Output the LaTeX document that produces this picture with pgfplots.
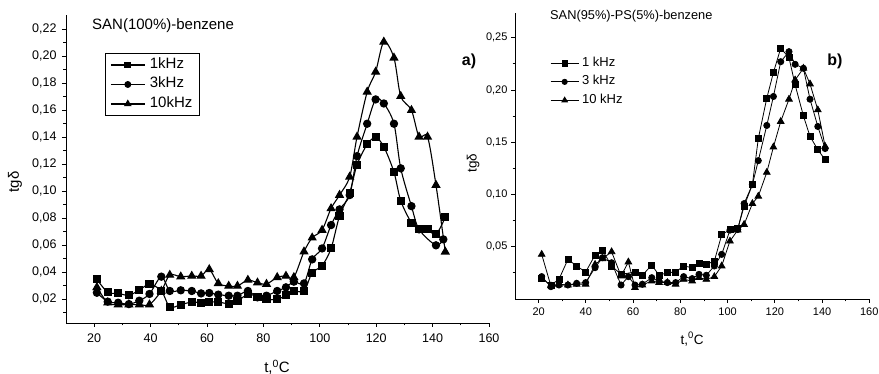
\documentclass[border=0pt]{standalone}
\usepackage{fontspec}
\setmainfont{Liberation Sans}
\usepackage{pgfplots}
\pgfplotsset{compat=1.18}

\pgfplotsset{
  mystyle/.style={
    scale only axis,
    axis x line*=bottom, axis y line*=left,
    axis line style={-, line width=0.9pt},
    tick align=outside,
    major tick length=4pt, minor tick length=2.5pt,
    every tick/.style={black, line width=0.8pt},
    xmin=10, xmax=160,
    xtick={20,40,60,80,100,120,140,160},
    minor xtick={30,50,70,90,110,130,150},
    scaled y ticks=false,
    /pgf/number format/assume math mode=true,
    yticklabel style={/pgf/number format/use comma, /pgf/number format/fixed, /pgf/number format/fixed zerofill, /pgf/number format/precision=2},
    clip=false,
  }
}

\begin{document}
\begin{tikzpicture}
\useasboundingbox (0,0) rectangle (879pt,374pt);

% ---------------- left: a) ----------------
\begin{axis}[mystyle,
  at={(66pt,51pt)}, anchor=south west, width=423pt, height=308pt,
  ymin=0.0025, ymax=0.2305,
  ytick={0.02,0.04,0.06,0.08,0.10,0.12,0.14,0.16,0.18,0.20,0.22},
  minor ytick={0.01,0.03,0.05,0.07,0.09,0.11,0.13,0.15,0.17,0.19,0.21},
  ticklabel style={font=\fontsize{12.5}{14}\selectfont},
  yticklabel style={xshift=-2pt},
  xticklabel style={yshift=-3pt},
  xlabel={t,\textsuperscript{0}C}, ylabel={tgδ},
  xlabel style={at={(axis description cs:0.499,-0.1429)}, anchor=center, font=\fontsize{15}{18}\selectfont},
  ylabel style={at={(axis description cs:-0.1206,0.458)}, anchor=center, font=\fontsize{15}{18}\selectfont},
  legend style={at={(axis description cs:0.092,0.877)}, anchor=north west, draw=black, line width=0.7pt,
     font=\fontsize{15}{18}\selectfont, inner xsep=5pt, inner ysep=2pt, row sep=0pt, column sep=3pt,
     cells={anchor=west}, nodes={inner sep=1.5pt, text height=11.5pt, text depth=5pt}},
  legend image code/.code={\draw[mark repeat=2,mark phase=2,mark options={scale=0.8}] plot coordinates {(0pt,0pt) (17pt,0pt) (34pt,0pt)};},
]
\addplot[black, line width=1.1pt, smooth, mark=square*, mark size=3.5pt] coordinates {
(20.95,0.0348) (24.8,0.0252) (28.5,0.0244) (32.3,0.0230) (36.0,0.0269) (39.6,0.0311) (43.8,0.0264)
(46.8,0.0143) (50.7,0.0161) (54.6,0.0180) (57.9,0.0175) (60.8,0.0180) (64.0,0.0180) (67.7,0.0168)
(70.8,0.0188) (74.5,0.0237) (77.9,0.0220) (81.1,0.0200) (84.9,0.0200) (88.0,0.0230) (90.8,0.0262)
(94.4,0.0262) (97.3,0.0397) (100.8,0.0449) (104.0,0.0577) (107.0,0.0817) (110.6,0.0989) (113.2,0.1196)
(116.8,0.1347) (119.8,0.1399) (122.7,0.1330) (126.3,0.1142) (128.7,0.0930) (132.5,0.0767) (135.2,0.0723)
(138.2,0.0718) (141.2,0.0681) (144.5,0.0807)};
\addlegendentry{1kHz}
\addplot[black, line width=1.1pt, smooth, mark=*, mark size=3.6pt] coordinates {
(20.95,0.0249) (24.8,0.0183) (28.5,0.0175) (32.3,0.0165) (36.0,0.0190) (39.6,0.0240) (43.8,0.0368)
(46.8,0.0262) (50.7,0.0267) (54.6,0.0262) (57.9,0.0244) (60.8,0.0247) (64.0,0.0235) (67.7,0.0227)
(70.8,0.0227) (74.5,0.0262) (77.9,0.0215) (81.1,0.0227) (84.9,0.0262) (88.0,0.0289) (90.8,0.0331)
(94.4,0.0318) (97.3,0.0496) (100.8,0.0577) (104.0,0.0750) (107.0,0.0866) (110.6,0.0972) (113.2,0.1260)
(116.8,0.1500) (119.8,0.1680) (122.7,0.1650) (126.3,0.1500) (128.7,0.1170) (132.5,0.0890) (135.2,0.0718)
(141.2,0.0600) (143.8,0.0644)};
\addlegendentry{3kHz}
\addplot[black, line width=1.1pt, smooth, mark=triangle*, mark size=4.3pt] coordinates {
(20.95,0.0289) (24.8,0.0175) (28.5,0.0161) (32.3,0.0161) (36.0,0.0161) (39.6,0.0161) (43.8,0.0262)
(46.8,0.0380) (50.7,0.0368) (54.6,0.0373) (57.9,0.0373) (60.8,0.0422) (64.0,0.0318) (67.7,0.0299)
(70.8,0.0299) (74.5,0.0343) (77.9,0.0323) (81.1,0.0313) (84.9,0.0363) (88.0,0.0373) (90.8,0.0363)
(94.4,0.0553) (97.3,0.0656) (100.8,0.0713) (104.0,0.0873) (107.0,0.0972) (110.6,0.1107) (113.2,0.1403)
(116.8,0.1736) (119.8,0.1884) (122.7,0.2106) (126.3,0.1988) (128.7,0.1704) (132.5,0.1600) (135.2,0.1403)
(138.2,0.1403) (141.2,0.1046) (144.5,0.0552)};
\addlegendentry{10kHz}
\end{axis}

% ---------------- right: b) ----------------
\begin{axis}[mystyle,
  at={(515pt,75pt)}, anchor=south west, width=354.3pt, height=286.3pt,
  ymin=0, ymax=0.274,
  ytick={0.05,0.10,0.15,0.20,0.25},
  minor ytick={0.025,0.075,0.125,0.175,0.225},
  ticklabel style={font=\fontsize{11}{13}\selectfont},
  xticklabel style={yshift=-1pt},
  xlabel={t,\textsuperscript{0}C}, ylabel={tgδ},
  xlabel style={at={(axis description cs:0.4996,-0.1397)}, anchor=center, font=\fontsize{13.5}{16}\selectfont},
  ylabel style={at={(axis description cs:-0.1185,0.475)}, anchor=center, font=\fontsize{13.5}{16}\selectfont},
  legend style={at={(axis description cs:0.099,0.856)}, anchor=north west, draw=none, fill=none,
     font=\fontsize{13}{15}\selectfont, inner sep=0pt, row sep=0pt, column sep=1.5pt,
     cells={anchor=west}, nodes={inner sep=1.5pt, text height=10.5pt, text depth=5pt}},
  legend image code/.code={\draw[mark repeat=2,mark phase=2,mark options={scale=0.85}] plot coordinates {(0pt,0pt) (14pt,0pt) (28pt,0pt)};},
]
\addplot[black, line width=0.8pt, mark=square*, mark size=3pt] coordinates {
(21.3,0.0195) (25.2,0.0134) (28.6,0.0188) (32.4,0.0379) (36.1,0.0316) (39.9,0.0258) (43.9,0.0420)
(47.0,0.0468) (50.9,0.0316) (54.9,0.0236) (60.8,0.0258) (63.9,0.0227) (67.9,0.0325) (71.0,0.0227)
(74.5,0.0252) (78.0,0.0258) (81.4,0.0316) (85.0,0.0300) (87.9,0.0338) (91.0,0.0331) (94.4,0.0363)
(97.5,0.0614) (101.0,0.0665) (104.3,0.0672) (107.0,0.0888) (110.5,0.1095) (113.0,0.1534) (116.6,0.1922)
(119.4,0.2167) (122.5,0.2400) (126.0,0.2310) (128.6,0.2049) (132.1,0.1753) (134.9,0.1556) (138.2,0.1429)
(141.3,0.1333)};
\addlegendentry{1 kHz}
\addplot[black, line width=0.8pt, mark=*, mark size=3.1pt] coordinates {
(21.3,0.0214) (25.2,0.0118) (28.6,0.0134) (32.4,0.0134) (36.1,0.0150) (39.9,0.0157) (43.9,0.0300)
(47.0,0.0395) (50.9,0.0347) (54.9,0.0134) (58.0,0.0214) (60.8,0.0134) (63.9,0.0141) (67.9,0.0204)
(71.0,0.0172) (74.5,0.0157) (78.0,0.0157) (81.4,0.0214) (85.0,0.0195) (87.9,0.0236) (91.0,0.0227)
(94.4,0.0316) (97.5,0.0427) (101.0,0.0659) (104.3,0.0665) (107.0,0.0913) (110.5,0.1095) (113.0,0.1324)
(116.6,0.1661) (119.4,0.1938) (122.5,0.2271) (126.0,0.2367) (128.6,0.2246) (132.1,0.2208) (134.9,0.1912)
(138.2,0.1651) (141.3,0.1440)};
\addlegendentry{3 kHz}
\addplot[black, line width=0.8pt, mark=triangle*, mark size=3.8pt] coordinates {
(21.3,0.0427) (25.2,0.0125) (28.6,0.0141) (32.4,0.0134) (36.1,0.0141) (39.9,0.0141) (43.9,0.0331)
(47.0,0.0385) (50.9,0.0452) (54.9,0.0220) (58.0,0.0354) (60.8,0.0109) (63.9,0.0134) (67.9,0.0172)
(71.0,0.0157) (74.5,0.0157) (78.0,0.0141) (81.4,0.0188) (85.0,0.0172) (87.9,0.0204) (91.0,0.0188)
(94.4,0.0214) (97.5,0.0316) (101.0,0.0554) (104.3,0.0659) (107.0,0.0713) (110.5,0.0913) (113.0,0.0983)
(116.6,0.1212) (119.4,0.1454) (122.5,0.1699) (126.0,0.1912) (128.6,0.2096) (132.1,0.2208) (134.9,0.2058)
(138.2,0.1810) (141.3,0.1460)};
\addlegendentry{10 kHz}
\end{axis}

% titles and panel letters
\node[anchor=west, font=\fontsize{15}{18}\selectfont, inner sep=0pt] at (92pt,348pt) {SAN(100\%)-benzene};
\node[anchor=west, font=\fontsize{12.8}{15}\selectfont, inner sep=0pt] at (550pt,358.3pt) {SAN(95\%)-PS(5\%)-benzene};
\node[font=\bfseries\fontsize{16}{18}\selectfont] at (469pt,313pt) {a)};
\node[font=\bfseries\fontsize{16}{18}\selectfont] at (835pt,313pt) {b)};
\end{tikzpicture}
\end{document}
